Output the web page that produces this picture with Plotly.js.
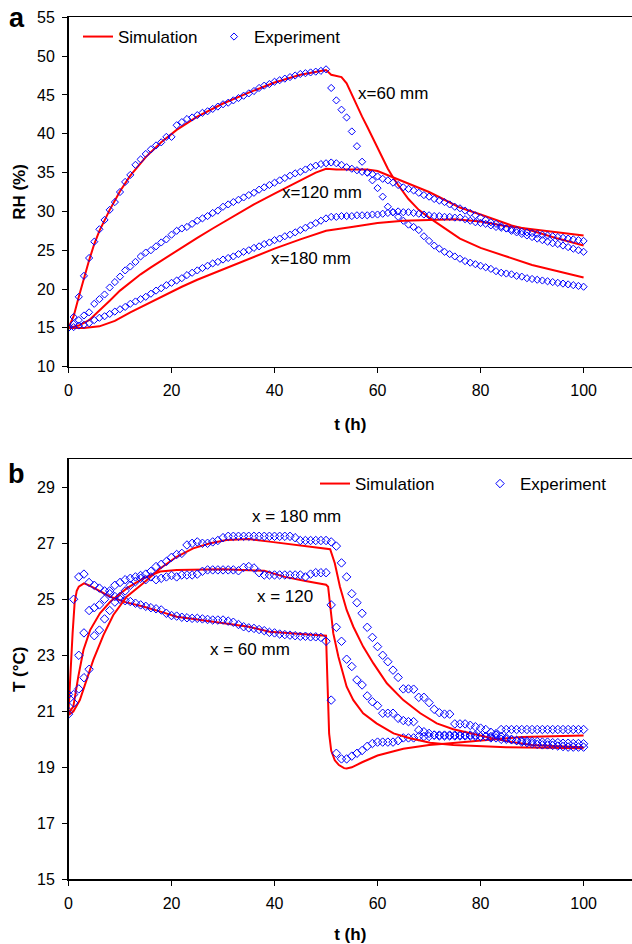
<!DOCTYPE html>
<html>
<head>
<meta charset="utf-8">
<script src="https://cdn.plot.ly/plotly-3.0.1.min.js"></script>
<style>html,body{margin:0;padding:0;background:#fff;overflow:hidden;}</style>
</head>
<body>
<div id="chart" style="width:632px;height:944px;"></div>
<script>
// ---------- DATA ----------
// Experimental sampling times (h)
const hours = [0,1,2,3,4,5,6,7,8,9,10,11,12,13,14,15,16,17,18,19,20,21,22,23,24,25,26,27,28,29,30,31,32,33,34,35,36,37,38,39,40,41,42,43,44,45,46,47,48,49,50,51,52,53,54,55,56,57,58,59,60,61,62,63,64,65,66,67,68,69,70,71,72,73,74,75,76,77,78,79,80,81,82,83,84,85,86,87,88,89,90,91,92,93,94,95,96,97,98,99,100];

// Panel a: RH (%) experiment
const rhExp60 = [15.0,16.4,19.0,21.7,24.0,26.1,27.7,28.9,30.2,31.2,32.5,33.8,34.7,36.0,36.7,37.4,38.0,38.5,38.9,39.6,39.6,41.1,41.5,41.9,42.1,42.4,42.7,42.9,43.2,43.5,43.8,44.0,44.3,44.6,44.9,45.2,45.5,45.9,46.2,46.4,46.7,46.9,47.1,47.3,47.5,47.7,47.8,47.9,48.0,48.1,48.3,45.9,44.3,43.1,42.1,40.3,38.4,36.4,35.0,34.0,33.0,31.9,30.6,29.9,29.3,28.8,28.3,28.0,27.6,26.8,26.2,25.6,25.2,24.8,24.5,24.2,23.9,23.6,23.4,23.2,23.0,22.8,22.6,22.3,22.1,22.0,21.9,21.7,21.6,21.4,21.3,21.2,21.1,21.0,20.9,20.8,20.7,20.6,20.5,20.4,20.3];
const rhExp120 = [15.0,15.5,16.0,16.6,17.0,18.1,18.7,19.3,20.2,20.9,21.6,22.4,22.9,23.5,24.2,24.7,25.0,25.5,26.0,26.4,27.0,27.5,27.8,28.0,28.4,28.8,29.1,29.4,29.8,30.1,30.6,30.9,31.2,31.5,31.8,32.1,32.4,32.8,33.1,33.4,33.7,34.0,34.3,34.6,34.9,35.1,35.4,35.7,35.9,36.1,36.2,36.3,36.2,36.0,35.7,35.5,35.3,35.1,35.0,34.8,34.5,34.2,34.0,33.7,33.4,33.1,32.9,32.7,32.4,32.1,31.9,31.6,31.4,31.2,30.9,30.6,30.4,30.1,29.8,29.5,29.2,28.9,28.6,28.4,28.1,27.8,27.5,27.3,27.1,26.9,26.7,26.5,26.3,26.1,25.9,25.8,25.6,25.4,25.2,25.0,24.8];
const rhExp180 = [15.0,15.1,15.3,15.4,15.6,16.0,16.3,16.5,16.8,17.1,17.4,17.7,18.1,18.4,18.7,19.0,19.4,19.8,20.1,20.5,20.8,21.1,21.4,21.8,22.1,22.4,22.7,23.0,23.3,23.5,23.8,24.0,24.2,24.5,24.8,25.0,25.3,25.5,25.8,26.0,26.3,26.5,26.8,27.0,27.3,27.6,27.9,28.2,28.5,28.8,29.1,29.3,29.3,29.4,29.4,29.4,29.5,29.5,29.5,29.6,29.6,29.7,29.8,29.9,30.0,29.9,29.9,29.8,29.7,29.6,29.5,29.4,29.4,29.3,29.3,29.2,29.2,29.0,28.8,28.6,28.5,28.4,28.2,28.0,27.9,27.8,27.7,27.6,27.4,27.3,27.2,27.1,27.0,26.9,26.8,26.7,26.6,26.5,26.4,26.3,26.2];

// Panel a: RH (%) simulation
const tSimA60 = [0,1,2,3,4,5,6,8,10,12,15,18,21,25,30,35,40,45,50,51,53,54,55,56,57,58,59,60,61,62,63,64,66,68,70,73,76,80,84,90,95,100];
const rhSim60 = [15,16.5,19,21.5,23.7,25.8,27.5,30.2,32.6,34.6,37.0,38.9,40.5,42.2,43.9,45.3,46.6,47.6,48.2,47.6,47.3,46.5,45.0,43.6,42.2,40.9,39.5,38.1,36.8,35.5,34.4,33.4,31.6,30.2,29.2,27.8,26.5,25.3,24.4,23.1,22.3,21.5];
const tSimA120 = [0,2,4,6,8,10,12,14,16,19,22,25,28,32,36,40,44,48,50,52,55,58,60,63,66,70,73,76,80,83,86,90,95,100];
const rhSim120 = [15,15.3,16.0,17.2,18.5,19.8,20.9,21.9,22.8,24.1,25.4,26.6,27.8,29.4,30.9,32.3,33.6,35.0,35.5,35.4,35.4,35.4,35.2,34.4,33.6,32.5,31.5,30.5,29.6,28.9,28.2,27.5,26.5,25.6];
const tSimA180 = [0,3,6,9,12,15,19,22,25,28,32,36,40,45,50,55,60,65,70,75,80,85,90,95,100];
const rhSim180 = [15,15.0,15.2,15.9,17.0,18.0,19.3,20.3,21.2,22.0,23.1,24.2,25.2,26.4,27.5,28.0,28.5,28.8,28.9,29.0,28.7,28.1,27.7,27.3,26.9];

// Panel b: T (°C) experiment
const tExp60 = [21.0,25.0,25.8,25.9,25.6,25.5,25.4,25.3,25.2,25.1,25.0,24.95,24.92,24.86,24.8,24.75,24.7,24.66,24.62,24.5,24.42,24.4,24.36,24.34,24.32,24.32,24.3,24.28,24.26,24.26,24.26,24.22,24.18,24.1,24.02,23.98,23.96,23.92,23.88,23.82,23.8,23.76,23.74,23.72,23.7,23.68,23.68,23.66,23.66,23.64,23.5,21.4,19.5,19.3,19.3,19.4,19.5,19.6,19.75,19.85,19.9,19.9,19.9,19.9,19.95,20.05,20.05,20.05,20.1,20.1,20.1,20.15,20.15,20.15,20.15,20.15,20.15,20.15,20.15,20.15,20.1,20.1,20.1,20.2,20.35,20.35,20.35,20.35,20.35,20.35,20.35,20.35,20.35,20.35,20.35,20.35,20.35,20.35,20.35,20.35,20.35];
const tExp120 = [21.6,21.6,23.0,23.8,24.6,24.7,24.8,25.0,25.3,25.5,25.6,25.7,25.75,25.8,25.85,25.7,25.8,25.7,25.75,25.8,25.85,25.8,25.87,25.87,25.87,25.9,26.0,26.05,26.05,26.05,26.05,26.05,26.05,26.02,26.14,26.17,26.12,25.95,25.87,25.87,25.87,25.87,25.87,25.87,25.87,25.87,25.8,25.9,25.95,25.95,25.95,24.8,24.0,23.5,22.86,22.6,22.12,21.94,21.55,21.34,21.2,20.93,20.93,20.93,20.75,20.67,20.63,20.63,20.33,20.27,20.21,20.15,20.12,20.12,20.12,20.12,20.12,20.12,20.12,20.1,20.1,20.1,20.05,20.05,20.0,20.0,19.98,19.96,19.95,19.94,19.92,19.92,19.9,19.9,19.88,19.88,19.86,19.86,19.85,19.85,19.84];
const tExp180 = [20.9,21.3,21.8,22.2,22.5,23.7,23.9,24.3,24.6,24.9,25.1,25.3,25.5,25.63,25.75,25.9,26.0,26.17,26.25,26.35,26.5,26.6,26.64,26.94,27.0,27.05,27.0,27.0,27.05,27.1,27.2,27.25,27.25,27.25,27.25,27.25,27.25,27.25,27.25,27.25,27.25,27.25,27.25,27.25,27.2,27.1,27.1,27.1,27.1,27.1,27.1,27.05,26.9,26.3,25.8,25.2,24.88,24.5,24.0,23.64,23.31,23.0,22.77,22.47,22.21,21.8,21.8,21.79,21.5,21.5,21.31,21.07,20.95,20.9,20.9,20.55,20.55,20.55,20.5,20.45,20.4,20.35,20.25,20.15,20.1,20.05,20.0,19.95,19.9,19.88,19.85,19.82,19.8,19.8,19.78,19.76,19.74,19.72,19.72,19.72,19.72];

// Panel b: T (°C) simulation
const tSimB60 = [0,0.4,0.8,1.2,1.6,2,3,4,6,8,11,14.5,18,21,25,30,35,39,45,50,50.2,50.4,50.6,51,51.7,52.5,53.5,54,55,57,60,65,70,73,80,88,100];
const tempSim60 = [21.0,22.5,23.8,24.9,25.3,25.45,25.57,25.5,25.3,25.1,24.9,24.74,24.55,24.38,24.28,24.16,24.02,23.84,23.75,23.7,22.5,21.0,20.2,19.6,19.25,19.08,18.97,18.96,19.0,19.18,19.42,19.66,19.8,19.84,19.96,20.08,20.14];
const tSimB120 = [0,0.94,1.9,2.9,4.2,6.1,8.1,11.3,14.5,17.8,21,30,38,42,46,50,50.4,50.8,51.4,52.4,54,55.3,57.2,59.8,63.1,66.3,70.2,74.7,78,85,100];
const tempSim120 = [20.93,21.17,22.24,23.19,23.9,24.5,24.91,25.39,25.75,25.99,26.05,26.07,26.02,25.8,25.65,25.52,25.45,24.86,23.79,22.95,21.88,21.4,20.93,20.57,20.21,20.04,19.88,19.8,19.78,19.72,19.68];
const tSimB180 = [0,0.94,2.2,3.5,4.8,6.8,8.7,11.3,14.5,17.8,21,24.2,27.5,30.7,35,39,45,50.8,51.7,52.7,54,55.3,57.2,59.2,61.8,65,68.3,71.5,74.7,78,82,86,90,95,100];
const tempSim180 = [20.87,20.99,21.4,22.12,22.83,23.73,24.44,25.09,25.57,26.1,26.52,26.82,27.0,27.12,27.15,27.06,26.92,26.79,26.29,25.45,24.62,24.02,23.31,22.71,22.0,21.4,20.93,20.57,20.36,20.21,20.05,19.9,19.8,19.75,19.72];

const seriesNames = ['Simulation', 'Experiment'];
const labelsA = ['x=60 mm', 'x=120 mm', 'x=180 mm'];
const labelsB = ['x = 180 mm', 'x = 120', 'x = 60 mm'];
const yTicksA = [10,15,20,25,30,35,40,45,50,55];
const yTicksB = [15,17,19,21,23,25,27,29];
const xTicks = [0,20,40,60,80,100];

// ---------- STYLE ----------
const RED = '#ff0000', BLUE = '#0000ff';
const FONT = 'Arial, "Liberation Sans", sans-serif';
const W = 632, H = 944;
const px = v => v / W, py = v => 1 - v / H;

function sim(x, y, xa, ya, show, leg, lw) {
  return {type:'scatter', mode:'lines', x:x, y:y, xaxis:xa, yaxis:ya,
    name:seriesNames[0], showlegend:show, legend:leg, legendwidth:lw,
    line:{color:RED, width:2}, hoverinfo:'skip'};
}
function exp(x, y, xa, ya, show, leg, sz, lw) {
  return {type:'scatter', mode:'markers', x:x, y:y, xaxis:xa, yaxis:ya,
    name:seriesNames[1], showlegend:show, legend:leg, legendwidth:lw,
    marker:{symbol:'diamond-open', size:sz, color:BLUE, line:{color:BLUE, width:1}}, hoverinfo:'skip'};
}

const traces = [
  sim(tSimA60, rhSim60, 'x', 'y', true, 'legend', 91),
  exp(hours, rhExp60, 'x', 'y', true, 'legend', 5.5, 85),
  sim(tSimA120, rhSim120, 'x', 'y', false, 'legend'),
  sim(tSimA180, rhSim180, 'x', 'y', false, 'legend'),
  exp(hours, rhExp120, 'x', 'y', false, 'legend', 5.5),
  exp(hours, rhExp180, 'x', 'y', false, 'legend', 5.5),
  sim(tSimB60, tempSim60, 'x2', 'y2', true, 'legend2', 120),
  exp(hours, tExp60, 'x2', 'y2', true, 'legend2', 6.5, 85),
  sim(tSimB120, tempSim120, 'x2', 'y2', false, 'legend2'),
  sim(tSimB180, tempSim180, 'x2', 'y2', false, 'legend2'),
  exp(hours, tExp120, 'x2', 'y2', false, 'legend2', 6.5),
  exp(hours, tExp180, 'x2', 'y2', false, 'legend2', 6.5)
];

function xAxis(anchor) {
  return {domain:[px(68.5),1], range:[0,109.4], anchor:anchor, tickvals:xTicks,
    ticks:'outside', ticklen:5, tickwidth:1, tickcolor:'#000',
    showline:true, linewidth:1.5, linecolor:'#000', mirror:true,
    showgrid:false, zeroline:false, tickfont:{size:16}, ticklabelstandoff:4,
    automargin:false,
    title:{text:'<b>t (h)</b>', font:{size:17}, standoff:19}};
}
function yAxis(anchor, dom, rng, tv, ttl) {
  return {domain:dom, range:rng, anchor:anchor, tickvals:tv,
    ticks:'outside', ticklen:5, tickwidth:1, tickcolor:'#000',
    showline:true, linewidth:1.5, linecolor:'#000', mirror:false,
    showgrid:false, zeroline:false, tickfont:{size:16}, ticklabelstandoff:4,
    automargin:false,
    title:{text:ttl, font:{size:17}, standoff:7}};
}

const ann = (text, x, y, xr, yr) => ({text:text, x:x, y:y, xref:xr, yref:yr,
  xanchor:'left', yanchor:'middle', showarrow:false, font:{size:17}});

const layout = {
  width:W, height:H, autosize:false,
  margin:{l:0, r:0, t:0, b:0, autoexpand:false},
  paper_bgcolor:'#fff', plot_bgcolor:'#fff',
  font:{family:FONT, size:16, color:'#000'},
  xaxis: xAxis('y'),
  yaxis: yAxis('x', [py(366.7), py(17.3)], [10,55], yTicksA, '<b>RH (%)</b>'),
  xaxis2: xAxis('y2'),
  yaxis2: yAxis('x2', [py(879.3), py(459.3)], [15,30], yTicksB, '<b>T (°C)</b>'),
  legend: {orientation:'h', x:px(78), xanchor:'left', y:py(19), yanchor:'top',
    bgcolor:'rgba(0,0,0,0)', font:{size:17}, itemwidth:30},
  legend2: {orientation:'h', x:px(315), xanchor:'left', y:py(466), yanchor:'top',
    bgcolor:'rgba(0,0,0,0)', font:{size:17}, itemwidth:30},
  annotations: [
    ann(labelsA[0], 55.8, 45.2, 'x', 'y'),
    ann(labelsA[1], 41.1, 32.5, 'x', 'y'),
    ann(labelsA[2], 39.0, 23.9, 'x', 'y'),
    ann(labelsB[0], 35.2, 27.95, 'x2', 'y2'),
    ann(labelsB[1], 36.2, 25.09, 'x2', 'y2'),
    ann(labelsB[2], 27.1, 23.19, 'x2', 'y2'),
    {text:'<b>a</b>', x:px(16.5), y:py(18.5), xref:'paper', yref:'paper', xanchor:'center', yanchor:'middle', showarrow:false, font:{size:27}},
    {text:'<b>b</b>', x:px(16.5), y:py(474), xref:'paper', yref:'paper', xanchor:'center', yanchor:'middle', showarrow:false, font:{size:27}}
  ]
};

Plotly.newPlot('chart', traces, layout, {staticPlot:true, displayModeBar:false});
</script>
</body>
</html>
